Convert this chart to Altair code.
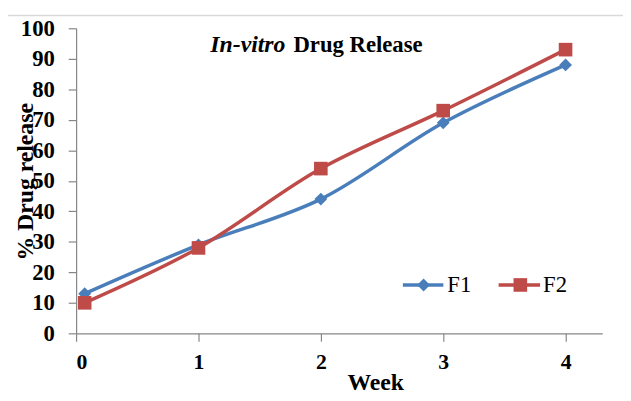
import altair as alt
import pandas as pd

weeks = [0.07, 1, 2, 3, 4]
f1_values = [13, 29, 44, 69, 88]
f2_values = [10, 28, 54, 73, 93]
series_names = ["F1", "F2"]
series_colors = ["#4A7EBB", "#BE4B48"]
series_shapes = ["diamond", "square"]
x_ticks = [0, 1, 2, 3, 4]
y_ticks = [0, 10, 20, 30, 40, 50, 60, 70, 80, 90, 100]
title_italic = ["In-vitro"]
title_bold = ["Drug Release"]
x_title = "Week"
y_title = "% Drug release"

rows = []
for w, v in zip(weeks, f1_values):
    rows.append({"week": w, "release": v, "series": "F1"})
for w, v in zip(weeks, f2_values):
    rows.append({"week": w, "release": v, "series": "F2"})
df = pd.DataFrame(rows)

FONT = "Liberation Serif"
W, H = 533, 309

x_enc = alt.X("week:Q", scale=alt.Scale(domain=[0, 4.3], nice=False, zero=False),
              axis=alt.Axis(values=x_ticks, title=x_title, grid=False, format="d",
                            tickSize=8, labelPadding=11, labelFontSize=22, labelOverlap=False,
                            titleX=303, titleY=57, titleBaseline="alphabetic",
                            titleAlign="center", titleFontSize=24))
y_enc = alt.Y("release:Q", scale=alt.Scale(domain=[0, 100], nice=False),
              axis=alt.Axis(values=y_ticks, title=y_title, grid=False,
                            tickSize=8, labelPadding=14, labelFontSize=23, labelOverlap=False,
                            titleAngle=270, titleX=-51, titleY=155,
                            titleBaseline="middle", titleAlign="center",
                            titleFontSize=24))
color_enc = alt.Color("series:N", scale=alt.Scale(domain=series_names, range=series_colors), legend=None)
shape_enc = alt.Shape("series:N", scale=alt.Scale(domain=series_names, range=series_shapes), legend=None)

base = alt.Chart(df)
lines = base.mark_line(strokeWidth=3.5, interpolate="catmull-rom").encode(
    x=x_enc, y=y_enc, color=color_enc, detail="series:N")
points_f1 = base.transform_filter(alt.datum.series == "F1").mark_point(
    filled=True, size=170, opacity=1).encode(x=x_enc, y=y_enc, color=color_enc, shape=shape_enc)
points_f2 = base.transform_filter(alt.datum.series == "F2").mark_point(
    filled=True, size=190, opacity=1).encode(x=x_enc, y=y_enc, color=color_enc, shape=shape_enc)

one = pd.DataFrame({"k": [0]})
border = alt.Chart(one).mark_rect(fill="transparent", stroke="#D9D9D9", strokeWidth=1.5).encode(
    x=alt.value(-70), x2=alt.value(700), y=alt.value(-13), y2=alt.value(500))

t1 = alt.Chart(pd.DataFrame({"t": title_italic})).mark_text(
    font=FONT, fontSize=24, fontWeight="bold", fontStyle="italic", align="right",
    baseline="alphabetic", color="black").encode(text="t:N", x=alt.value(212), y=alt.value(24))
t2 = alt.Chart(pd.DataFrame({"t": title_bold})).mark_text(
    font=FONT, fontSize=23, fontWeight="bold", align="right",
    baseline="alphabetic", color="black").encode(text="t:N", x=alt.value(351), y=alt.value(24))

# legend
leg_y = 286 - 26
legend_layers = []
leg_specs = [(408 - 77, 449 - 77, 429 - 77, 453 - 77, 170), (505 - 77, 547 - 77, 527 - 77, 550 - 77, 190)]
for i, name in enumerate(series_names):
    x0, x1, xc, xt, sz = leg_specs[i]
    d = pd.DataFrame({"series": [name]})
    legend_layers.append(alt.Chart(d).mark_rule(strokeWidth=3.5, color=series_colors[i]).encode(
        x=alt.value(x0), x2=alt.value(x1), y=alt.value(leg_y)))
    legend_layers.append(alt.Chart(d).mark_point(filled=True, size=sz, opacity=1,
                                                 shape=series_shapes[i], color=series_colors[i]).encode(
        x=alt.value(xc), y=alt.value(leg_y)))
    legend_layers.append(alt.Chart(d).mark_text(font=FONT, fontSize=23, align="left",
                                                baseline="middle", color="black").encode(
        text="series:N", x=alt.value(xt), y=alt.value(leg_y)))

chart = alt.layer(border, lines, points_f1, points_f2, t1, t2, *legend_layers).properties(
    width=W, height=H,
    autosize=alt.AutoSizeParams(type="none"),
    padding={"left": 69, "top": 18, "right": 21, "bottom": 66},
).configure_view(stroke=None).configure_axis(
    labelFont=FONT, titleFont=FONT, labelFontWeight="bold", titleFontWeight="bold",
    labelColor="black", titleColor="black", domainColor="#868686", tickColor="#868686",
    domainWidth=1.2, tickWidth=1.2,
)

chart.save("out.html", embed_options={"renderer": "svg", "actions": False})
